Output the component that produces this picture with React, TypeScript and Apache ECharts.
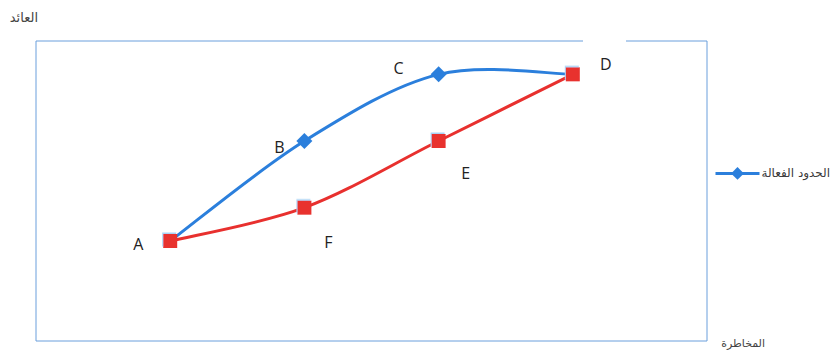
import React, { useEffect, useRef } from "react";
import * as echarts from "echarts";

const frontierX = [1, 2, 3, 4];
const frontierY = [3, 6, 8, 8];
const frontierNames = ["A", "B", "C", "D"];
const lowerX = [1, 2, 3, 4];
const lowerY = [3, 4, 6, 8];
const lowerNames = ["A", "F", "E", "D"];
const seriesName = "الحدود الفعالة";
const yAxisTitle = "العائد";
const xAxisTitle = "المخاطرة";

const BLUE = "#2b7fdc";
const RED = "#e8302e";
const FRAME = "#6a9fdc";

// label offsets (layout only)
const frontierLabelOffsets: Record<string, [number, number] | null> = {
  A: null,
  B: [-25, 6],
  C: [-40, -6],
  D: null,
};
const lowerLabelOffsets: Record<string, [number, number]> = {
  A: [-32, 3],
  F: [24, 34],
  E: [27, 32],
  D: [33, -10],
};

function smoothPath(pts: number[][]): string {
  const n = pts.length;
  let d = `M${pts[0][0]},${pts[0][1]}`;
  for (let i = 0; i < n - 1; i++) {
    const p0 = pts[Math.max(0, i - 1)];
    const p1 = pts[i];
    const p2 = pts[i + 1];
    const p3 = pts[Math.min(n - 1, i + 2)];
    const c1x = p1[0] + (p2[0] - p0[0]) / 6;
    const c1y = p1[1] + (p2[1] - p0[1]) / 6;
    const c2x = p2[0] - (p3[0] - p1[0]) / 6;
    const c2y = p2[1] - (p3[1] - p1[1]) / 6;
    d += ` C${c1x},${c1y} ${c2x},${c2y} ${p2[0]},${p2[1]}`;
  }
  return d;
}

function curveSeries(name: string, xs: number[], ys: number[], color: string, z: number) {
  return {
    name,
    type: "custom",
    coordinateSystem: "cartesian2d",
    silent: true,
    z,
    data: xs.map((x, i) => [x, ys[i]]),
    encode: { x: 0, y: 1 },
    renderItem: (params: any, api: any) => {
      if (params.dataIndex !== 0) return null;
      const pts = xs.map((x, i) => api.coord([x, ys[i]]));
      return {
        type: "path",
        shape: { pathData: smoothPath(pts) },
        style: { stroke: color, lineWidth: 3, fill: "none" },
      };
    },
  };
}

export default function App() {
  const ref = useRef<HTMLDivElement>(null);
  useEffect(() => {
    if (!ref.current) return;
    const chart = echarts.init(ref.current, undefined, { renderer: "svg" });
    const labelFont = {
      fontFamily: "Open Sans",
      fontSize: 16,
      color: "#222",
    };
    const blueData = frontierX.map((x, i) => {
      const n = frontierNames[i];
      const off = frontierLabelOffsets[n];
      const edge = i === 0 || i === frontierX.length - 1;
      return {
        value: [x, frontierY[i]],
        name: n,
        symbolSize: edge ? 0 : 16,
        label: off
          ? { show: true, formatter: n, position: "inside", offset: off, ...labelFont }
          : { show: false },
      };
    });
    const redData = lowerX.map((x, i) => {
      const n = lowerNames[i];
      const off = lowerLabelOffsets[n];
      return {
        value: [x, lowerY[i]],
        name: n,
        label: { show: true, formatter: n, position: "inside", offset: off, ...labelFont },
      };
    });
    chart.setOption({
      animation: false,
      grid: {
        left: 36,
        top: 41,
        width: 671,
        height: 300,
        show: true,
        borderColor: FRAME,
        borderWidth: 1,
        backgroundColor: "transparent",
      },
      xAxis: {
        type: "value",
        min: 0,
        max: 5,
        axisLine: { show: false },
        axisTick: { show: false },
        axisLabel: { show: false },
        splitLine: { show: false },
      },
      yAxis: {
        type: "value",
        min: 0,
        max: 9,
        axisLine: { show: false },
        axisTick: { show: false },
        axisLabel: { show: false },
        splitLine: { show: false },
      },
      legend: {
        data: [
          {
            name: seriesName,
            lineStyle: { color: BLUE, width: 3, opacity: 1 },
          },
        ],
        left: 714,
        top: 167,
        padding: 0,
        itemWidth: 44,
        itemHeight: 16,
        itemGap: 2,
        textStyle: { fontFamily: "DejaVu Sans", fontSize: 12, color: "#3a3a3a", padding: [0, 0, 0, -3] },
      },
      graphic: [
        {
          type: "rect",
          shape: { x: 583, y: 38, width: 43, height: 6 },
          style: { fill: "#fff" },
          z: 100,
        },
        {
          type: "text",
          x: 38,
          y: 17,
          style: {
            text: yAxisTitle,
            fontFamily: "DejaVu Sans",
            fontSize: 13,
            fill: "#444",
            align: "right",
            verticalAlign: "middle",
          },
        },
        {
          type: "text",
          x: 765,
          y: 343,
          style: {
            text: xAxisTitle,
            fontFamily: "DejaVu Sans",
            fontSize: 11,
            fill: "#444",
            align: "right",
            verticalAlign: "middle",
          },
        },
      ],
      series: [
        curveSeries("frontierCurve", frontierX, frontierY, BLUE, 1),
        {
          name: seriesName,
          type: "line",
          symbol: "diamond",
          symbolSize: 16,
          lineStyle: { color: BLUE, width: 0, opacity: 0 },
          itemStyle: { color: BLUE },
          data: blueData,
          z: 2,
        },
        curveSeries("lowerCurve", lowerX, lowerY, RED, 3),
        {
          name: "lower",
          type: "line",
          symbol: "rect",
          symbolSize: 14,
          lineStyle: { color: RED, width: 0, opacity: 0 },
          itemStyle: {
            color: RED,
            shadowColor: "#a9d3f5",
            shadowBlur: 0,
            shadowOffsetX: -1,
            shadowOffsetY: -1.5,
          },
          data: redData,
          z: 4,
        },
      ],
    });
    return () => chart.dispose();
  }, []);
  return (
    <div
      ref={ref}
      style={{ position: "absolute", left: 0, top: 0, width: 832, height: 352 }}
    />
  );
}
